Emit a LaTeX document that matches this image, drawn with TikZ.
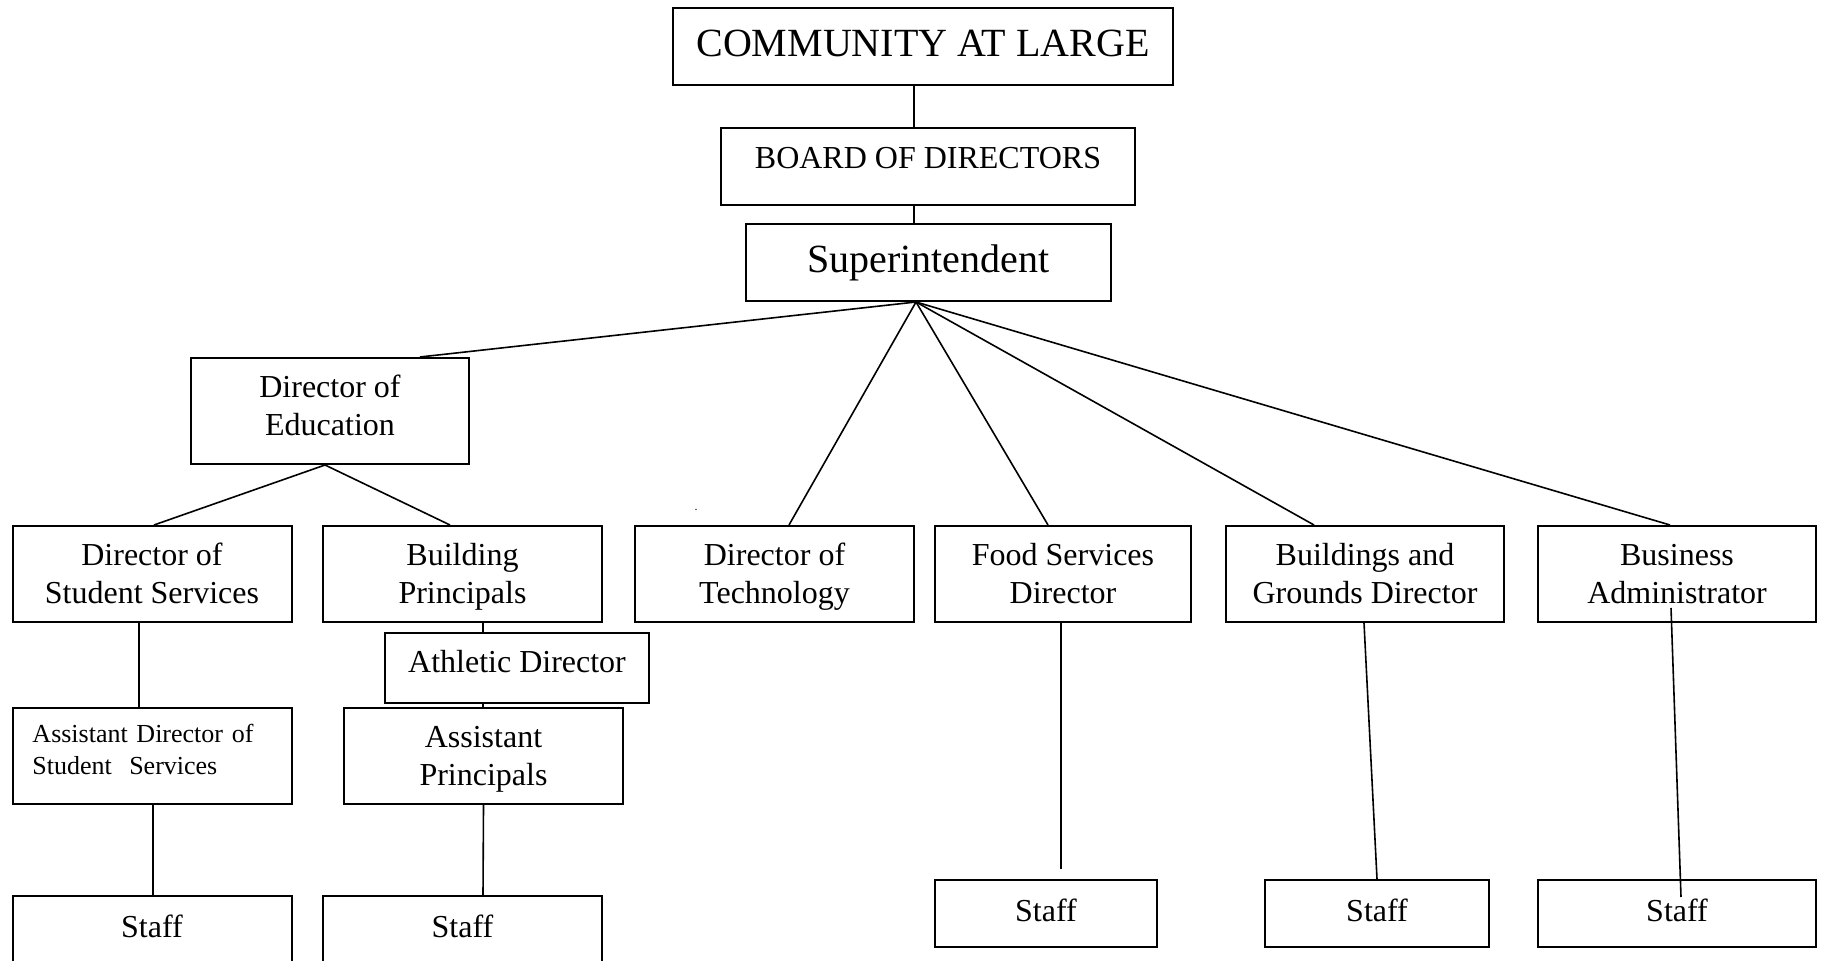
\documentclass[tikz,border=0pt]{standalone}
\usepackage{fontspec}
\setmainfont{Liberation Serif}

\begin{document}
\begin{tikzpicture}[x=.5pt,y=-.5pt,
  box/.style={draw,line width=1pt,inner sep=0pt,align=center,font=\fontsize{16}{19}\selectfont,
    execute at begin node=\strut,execute at end node=\strut},
  big/.style={font=\fontsize{20}{24}\selectfont},
  low/.style={text height=32.6pt,text depth=3pt},
  high/.style={execute at end node={\rule[-#1]{0pt}{0pt}}},
  link/.style={line width=.8pt}]
\useasboundingbox (0,0) rectangle (1824,961);
\clip (0,0) rectangle (1824,961);

\node[box,big,minimum width=250pt,minimum height=38.5pt] (com) at (923,46.5) {COMMUNITY AT LARGE};
\node[box,minimum width=207pt,minimum height=38.5pt,text depth=11pt] (bod) at (928,166.5) {BOARD OF DIRECTORS};
\node[box,big,minimum width=182.5pt,minimum height=38.5pt] (sup) at (928.5,262.5) {Superintendent};
\node[box,minimum width=139pt,minimum height=53pt] (doe) at (330,411) {Director of\\Education};

\node[box,low,minimum width=139.5pt,minimum height=48pt] (dss) at (152,574) {Director of\\Student Services};
\node[box,low,minimum width=139.5pt,minimum height=48pt] (bp) at (462.5,574) {Building\\Principals};
\node[box,low,minimum width=139.5pt,minimum height=48pt] (dtech) at (774.5,574) {Director of\\Technology};
\node[box,low,minimum width=128pt,minimum height=48pt] (fsd) at (1063,574) {Food Services\\Director};
\node[box,low,minimum width=139pt,minimum height=48pt] (bgd) at (1365,574) {Buildings and\\Grounds Director};
\node[box,low,minimum width=139pt,minimum height=48pt] (ba) at (1677,574) {Business\\Administrator};
\node[inner sep=0pt,font=\fontsize{6}{7}\selectfont] (dot) at (696,510) {.};

\node[box,high=9pt,minimum width=132pt,minimum height=35pt] (ath) at (517,668) {Athletic Director};
\node[box,low,minimum width=139.5pt,minimum height=48pt] (ap) at (483.5,756) {Assistant\\Principals};
\node[box,high=8.3pt,minimum width=139.5pt,minimum height=48pt,text width=119.5pt,align=left,
  font=\fontsize{13}{15.8}\selectfont] (adss) at (152,756) {Assistant Director of\\Student\ \ Services};

\foreach \nm/\x/\y/\w in {st1/152/929.5/139.5,st2/462.5/929.5/139.5,st3/1046/913.5/111.25,
  st4/1377/913.5/112,st5/1677/913.5/139}
  \node[box,minimum width=\w pt,minimum height=33.5pt] (\nm) at (\x,\y) {Staff};

\draw[link] ([xshift=-4.5pt]com.south) -- ([xshift=-7pt]bod.north);
\draw[link] ([xshift=-7pt]bod.south) -- ([xshift=-7.25pt]sup.north);
\coordinate (fan) at ([xshift=-6.25pt]sup.south);
\draw[link] (fan) -- ([xshift=45pt]doe.north);
\draw[link] (fan) -- ([xshift=7.25pt]dtech.north);
\draw[link] (fan) -- ([xshift=-7.5pt]fsd.north);
\draw[link] (fan) -- ([xshift=-25.5pt]bgd.north);
\draw[link] (fan) -- ([xshift=-3.5pt]ba.north);
\draw[link] ([xshift=-2.5pt]doe.south) -- ([xshift=1pt]dss.north);
\draw[link] ([xshift=-2.5pt]doe.south) -- ([xshift=-6.25pt]bp.north);
\draw[link] ([xshift=-6.5pt]dss.south) -- ([xshift=-6.5pt]adss.north);
\draw[link] ([xshift=10.25pt]bp.south) -- ([xshift=-17pt]ath.north);
\draw[link] ([xshift=-17pt]ath.south) -- ([xshift=-.25pt]ap.north);
\draw[link] ([xshift=.5pt]adss.south) -- ([xshift=.5pt]st1.north);
\draw[link] (ap.south) -- ([xshift=10.25pt]st2.north);
\coordinate (fsdend) at ([xshift=-1pt,yshift=-123pt]fsd.south);
\draw[link] ([xshift=-1pt]fsd.south) -- (fsdend);
\draw[link] ([xshift=-.5pt]bgd.south) -- (st4.north);
\draw[link] ([xshift=-3pt,yshift=-17pt]ba.center) -- ([xshift=2pt,yshift=8.25pt]st5.center);
\end{tikzpicture}
\end{document}
